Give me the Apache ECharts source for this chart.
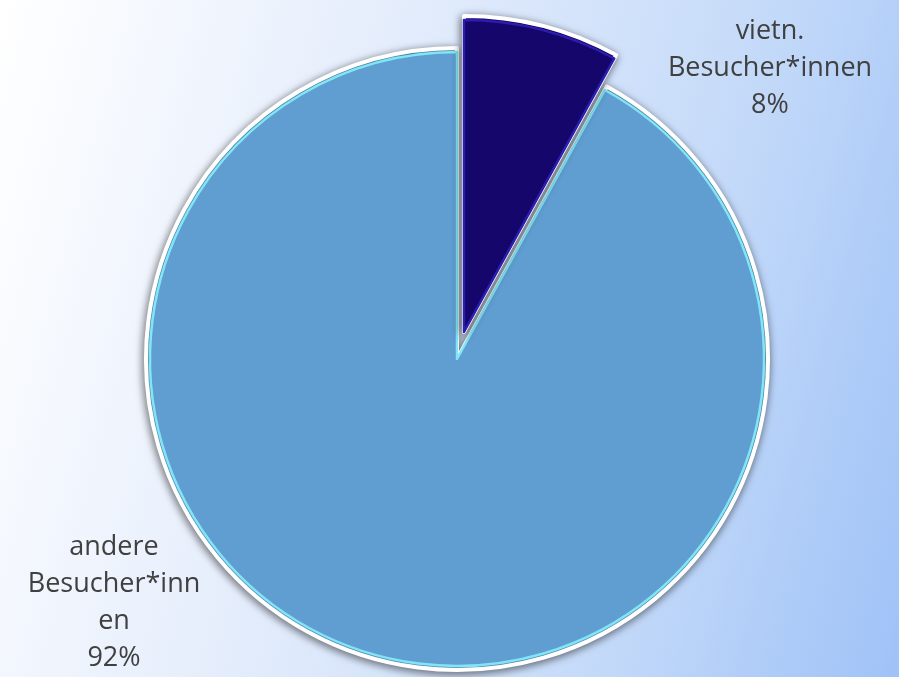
<!DOCTYPE html>
<html><head><meta charset="utf-8">
<script src="https://cdn.jsdelivr.net/npm/echarts@6/dist/echarts.min.js"></script>
<style>
html,body{margin:0;padding:0;}
#c{width:899px;height:677px;background:linear-gradient(105deg,#ffffff 0%,#e6eefc 35%,#c6dbf9 70%,#9fc2f7 100%);}
</style></head>
<body><div id="c"></div>
<script>
const categories = ['vietn.\nBesucher*innen', 'andere\nBesucher*inn\nen'];
const values = [8, 92];
const sliceColors = ['#15066b', '#609dd0'];
const innerBorders = ['#2a1db0', '#80e6f6'];

const chart = echarts.init(document.getElementById('c'));
const center = [457, 359];
const radii = [316, 311];

function layer(idx, outer) {
  const r = radii[idx] - (outer ? 0 : 4);
  return {
    type: 'pie', silent: true,
    center: center, radius: [0, r],
    startAngle: 90, clockwise: true,
    selectedMode: 'single', selectedOffset: 28,
    data: categories.map((n, i) => ({
      name: n, value: values[i], selected: i === 0,
      itemStyle: i === idx
        ? (outer
            ? { color: sliceColors[i], borderColor: '#ffffff', borderWidth: 4,
                shadowColor: 'rgba(0,0,0,0.5)', shadowBlur: 8, shadowOffsetX: -1, shadowOffsetY: 2 }
            : { color: sliceColors[i], borderColor: innerBorders[i], borderWidth: 2.5 })
        : { color: 'rgba(0,0,0,0)', borderWidth: 0 }
    })),
    label: { show: false }, labelLine: { show: false },
    emphasis: { disabled: true }
  };
}

const labelPos = [[770, 13], [114, 529]];
chart.setOption({
  animation: false,
  series: [layer(1, true), layer(1, false), layer(0, true), layer(0, false)],
  graphic: categories.map((n, i) => ({
    type: 'text', x: labelPos[i][0], y: labelPos[i][1],
    style: {
      text: n + '\n' + values[i] + '%',
      font: '27px "Open Sans"', lineHeight: 37, fill: '#404040',
      align: 'center', verticalAlign: 'top'
    }
  }))
});
</script></body></html>
